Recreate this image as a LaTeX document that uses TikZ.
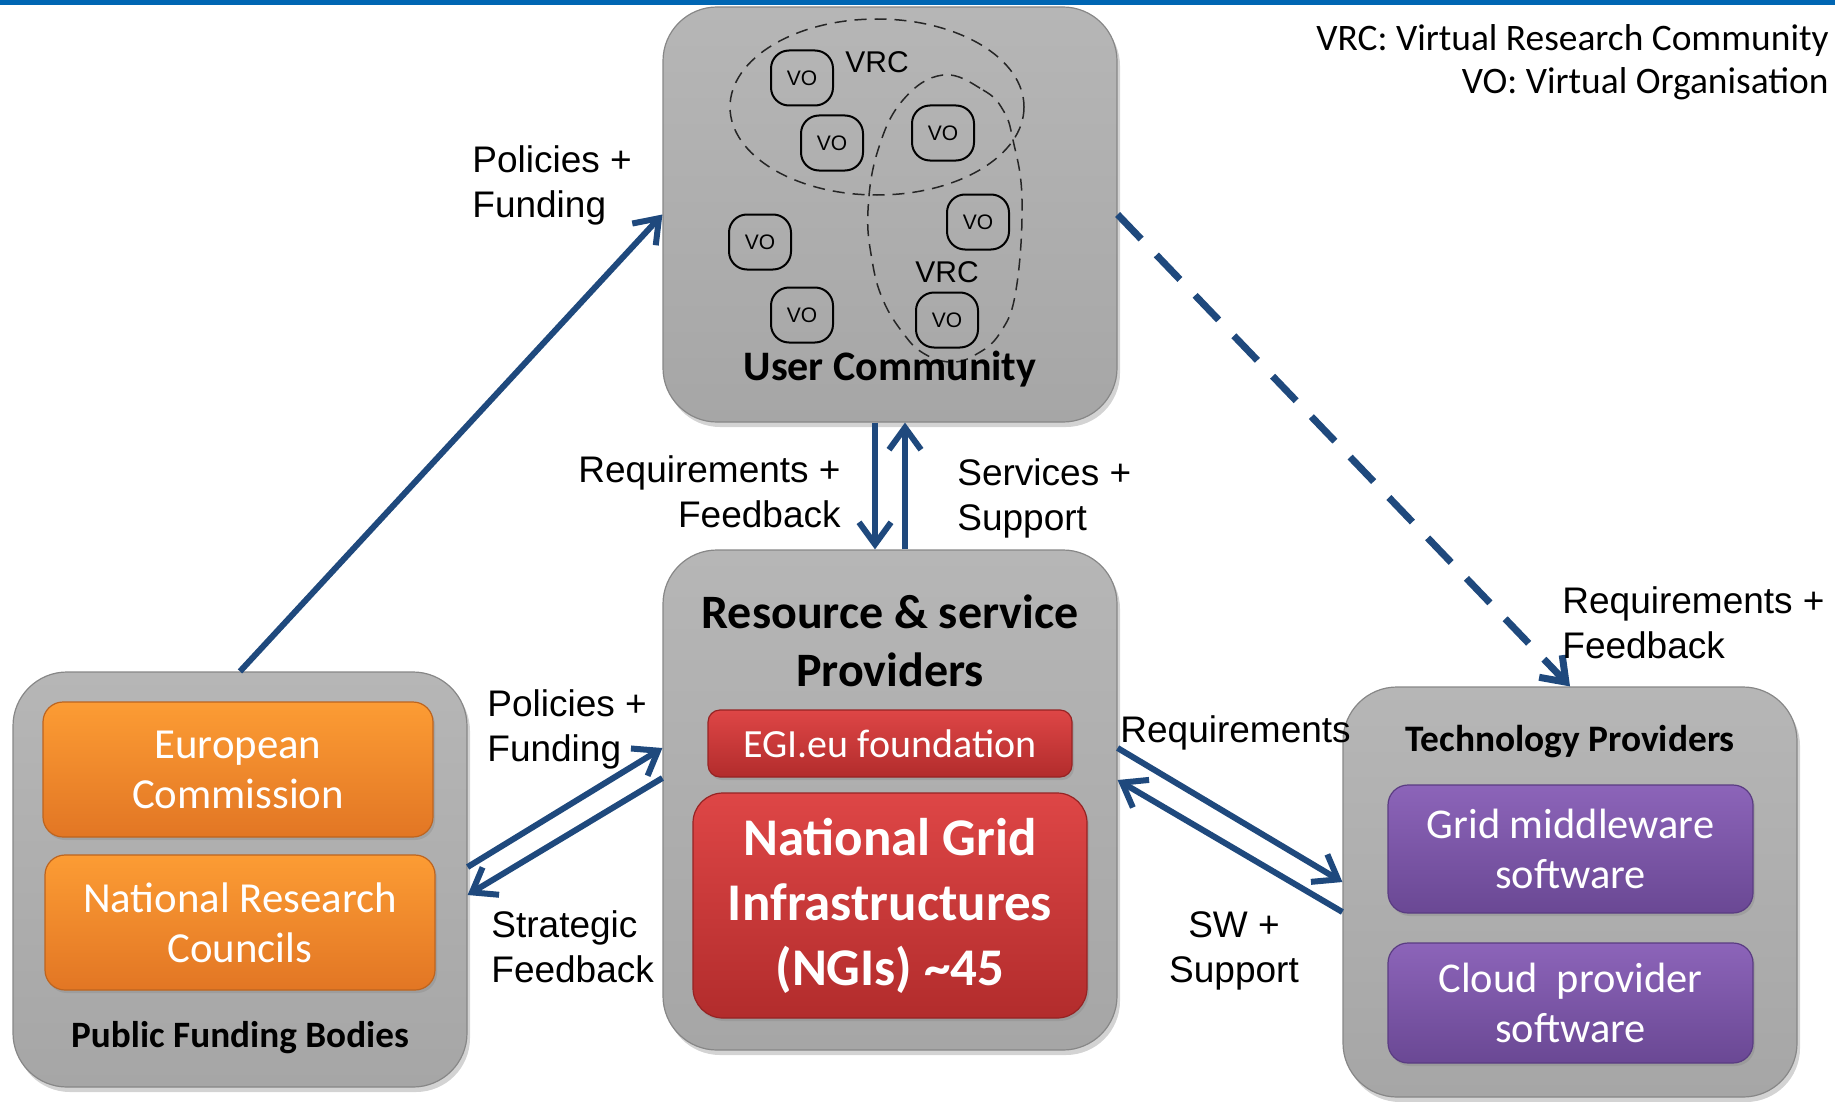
\documentclass[tikz,border=0pt]{standalone}
\usepackage{fontspec}
\setmainfont{Carlito}
\newfontfamily\arialf{Liberation Sans}
\usetikzlibrary{arrows.meta,shadows,calc}

\definecolor{bandblue}{RGB}{0,102,179}
\definecolor{arrowblue}{RGB}{31,73,125}
\definecolor{gtop}{RGB}{182,182,182}
\definecolor{gbot}{RGB}{166,166,166}
\definecolor{gedge}{RGB}{135,135,135}
\definecolor{ortop}{RGB}{252,156,52}
\definecolor{orbot}{RGB}{226,118,36}
\definecolor{oredge}{RGB}{190,100,30}
\definecolor{rdtop}{RGB}{222,70,70}
\definecolor{rdbot}{RGB}{178,44,44}
\definecolor{rdedge}{RGB}{150,35,35}
\definecolor{pptop}{RGB}{140,100,185}
\definecolor{ppbot}{RGB}{106,72,148}
\definecolor{ppedge}{RGB}{90,60,130}

\begin{document}
\begin{tikzpicture}[x=0.5pt,y=-0.5pt,
  grp/.style={rounded corners=27pt, draw=gedge, line width=0.6pt, top color=gtop, bottom color=gbot,
    drop shadow={opacity=0.35, shadow xshift=1.5pt, shadow yshift=-2.5pt}, minimum width=227pt, inner sep=0pt},
  innerbox/.style={line width=0.6pt, text=white, align=center, inner sep=0pt,
    drop shadow={opacity=0.3, shadow xshift=1pt, shadow yshift=-1.5pt}},
  orbox/.style={innerbox, rounded corners=10pt, draw=oredge, top color=ortop, bottom color=orbot,
    minimum width=195pt, minimum height=67.5pt, font=\fontsize{21.4}{25}\selectfont},
  rdbox/.style={innerbox, draw=rdedge, top color=rdtop, bottom color=rdbot},
  ppbox/.style={innerbox, rounded corners=10pt, draw=ppedge, top color=pptop, bottom color=ppbot,
    minimum width=182.5pt, font=\fontsize{21.2}{25}\selectfont},
  grptitle/.style={font=\bfseries\fontsize{18.6}{23}\selectfont, inner sep=0pt, anchor=base},
  vo/.style={draw=black, line width=1pt, rounded corners=9pt, minimum width=31pt, minimum height=27.5pt,
    inner sep=0pt, font=\arialf\fontsize{10.5}{12}\selectfont},
  vrc/.style={font=\arialf\fontsize{15}{18}\selectfont, inner sep=0pt, anchor=base},
  vrcline/.style={draw=black!85, line width=0.75pt, dash pattern=on 6pt off 4pt},
  lbl/.style={font=\arialf\fontsize{18.5}{22.5}\selectfont, align=left, inner sep=0pt},
  flow/.style={draw=arrowblue, line width=3pt, -{Straight Barb[length=11pt,width=16pt]}},
  dflow/.style={draw=arrowblue, line width=3.5pt, dash pattern=on 17pt off 11pt, -{Straight Barb[length=11pt,width=16pt]}}
]
\useasboundingbox (0,0) rectangle (1835,1102);
\fill[bandblue] (0,0) rectangle (1835,5);

% group boxes
\node[grp, minimum height=207.5pt] (uc) at (890,214.5) {};
\node[grp, minimum height=250pt] (rp) at (890,800) {};
\node[grp, minimum height=207.5pt] (pf) at (240,879.5) {};
\node[grp, minimum height=205pt] (tp) at (1570,892) {};

% user community content
\draw[vrcline] (877,107) ellipse [x radius=147, y radius=88];
\draw[vrcline] plot[smooth cycle, tension=0.7] coordinates {(943,75) (983,90) (1003,110) (1013,140) (1022,200) (1016,290) (1000,333) (975,355) (950,362) (923,353) (903,333) (883,300) (872,260) (868,210) (878,150) (903,100)};
\node[vo] (vo1) at (802,78) {VO};
\node[vo] (vo2) at (832,143) {VO};
\node[vo] (vo3) at (943,133) {VO};
\node[vo] (vo4) at (760,242) {VO};
\node[vo] (vo5) at (978,222) {VO};
\node[vo] (vo6) at (802,315) {VO};
\node[vo] (vo7) at (947,320) {VO};
\node[vrc] (vrc1) at (877,73) {VRC};
\node[vrc] (vrc2) at (947,282) {VRC};
\node[grptitle, font=\bfseries\fontsize{21}{25}\selectfont] (uct) at (890,380) {User Community};

% resource providers content
\node[font=\bfseries\fontsize{24}{29}\selectfont, align=center, inner sep=0pt] (rpt) at (890,641) {Resource \& service\\Providers};
\node[rdbox, rounded corners=6pt, minimum width=182pt, minimum height=33.5pt] (egi) at (890,743.5) {};
\node[text=white, font=\fontsize{20}{22}\selectfont, inner sep=0pt, anchor=base] (egit) at (890,757) {EGI.eu foundation};
\node[rdbox, rounded corners=15pt, minimum width=197pt, minimum height=112.5pt, font=\bfseries\fontsize{26.5}{32.5}\selectfont] (ngi) at (890,905.5) {National Grid\\Infrastructures\\(NGIs) \textasciitilde45};

% public funding bodies content
\node[orbox] (ec) at (238,769.5) {European\\Commission};
\node[orbox] (nrc) at (240,922.5) {National Research\\Councils};
\node[grptitle] (pft) at (240,1047) {Public Funding Bodies};

% technology providers content
\node[grptitle, font=\bfseries\fontsize{18.7}{22}\selectfont] (tpt) at (1570,751) {Technology Providers};
\node[ppbox, minimum height=64pt] (grid) at (1570.5,849) {Grid middleware\\software};
\node[ppbox, minimum height=60pt] (cloud) at (1570.5,1003) {Cloud\ \ provider\\software};

% legend
\node[font=\fontsize{18.7}{21.5}\selectfont, align=right, inner sep=0pt, anchor=east] (legend) at (1829,62) {VRC: Virtual Research Community\\VO: Virtual Organisation};

% connectors
\draw[flow] (pf.north) -- (uc.west);
\draw[flow] ([xshift=-7.5pt]uc.south) -- ([xshift=-7.5pt]rp.north);
\draw[flow] ([xshift=7.5pt]rp.north) -- ([xshift=7.5pt]uc.south);
\draw[flow] ([yshift=6.25pt]pf.east) -- ([yshift=26pt]rp.west);
\draw[flow] ([yshift=11pt]rp.west) -- ([yshift=-7.75pt]pf.east);
\draw[flow] ([yshift=26pt]rp.east) -- ([yshift=5pt]tp.west);
\draw[flow] ([yshift=-10pt]tp.west) -- ([yshift=10pt]rp.east);
\draw[dflow] (uc.east) -- (tp.north);

% connector labels
\node[lbl, anchor=west] (l1) at (472,185) {Policies +\\Funding};
\node[lbl, anchor=east, align=right] (l2) at (841,492) {Requirements +\\Feedback};
\node[lbl, anchor=west] (l3) at (957,498) {Services +\\Support};
\node[lbl, anchor=west] (l4) at (487,729) {Policies +\\Funding};
\node[lbl, anchor=west] (l5) at (491,947) {Strategic\\Feedback};
\node[lbl, anchor=base west] (l6) at (1120,742) {Requirements};
\node[lbl, align=center] (l7) at (1234,951) {SW +\\Support};
\node[lbl, anchor=west] (l8) at (1562,623) {Requirements +\\Feedback};
\end{tikzpicture}
\end{document}
